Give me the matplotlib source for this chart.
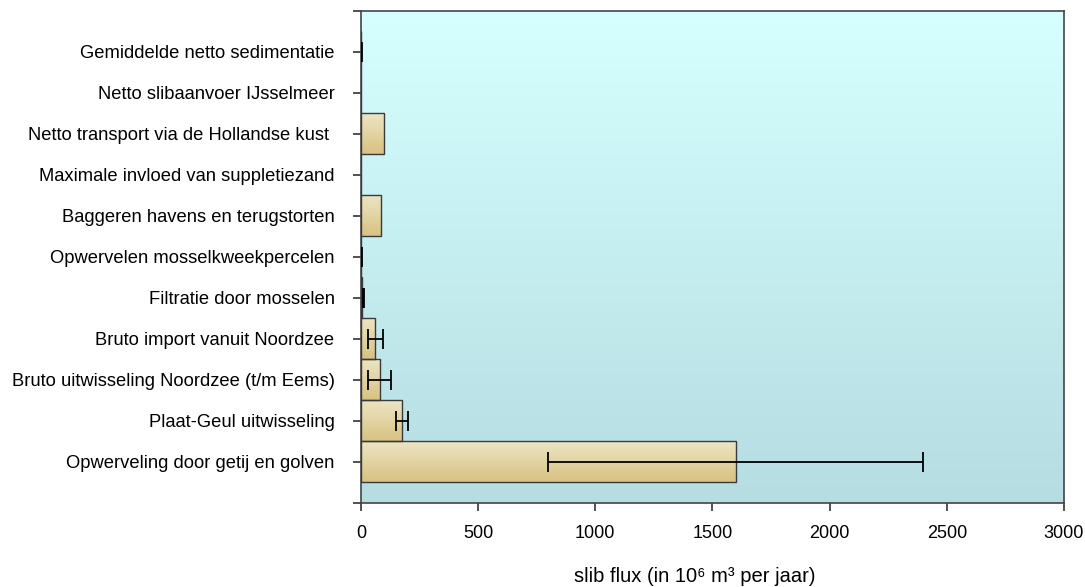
import numpy as np
import matplotlib
matplotlib.use('Agg')
import matplotlib.pyplot as plt
from matplotlib.colors import LinearSegmentedColormap

plt.rcParams['font.family'] = ['Liberation Sans', 'DejaVu Sans']

# categorieen van onder naar boven
categorieen = [
    'Opwerveling door getij en golven',
    'Plaat-Geul uitwisseling',
    'Bruto uitwisseling Noordzee (t/m Eems)',
    'Bruto import vanuit Noordzee',
    'Filtratie door mosselen',
    'Opwervelen mosselkweekpercelen',
    'Baggeren havens en terugstorten',
    'Maximale invloed van suppletiezand',
    'Netto transport via de Hollandse kust ',
    'Netto slibaanvoer IJsselmeer',
    'Gemiddelde netto sedimentatie',
]
waarden = [1600, 175, 80, 60, 5, 0, 85, 0, 100, 0, 0]
fout_laag = [800, 150, 30, 30, 7, 0, None, None, None, None, 0]
fout_hoog = [2400, 200, 130, 92, 13, 3, None, None, None, None, 3]
xticks = [0, 500, 1000, 1500, 2000, 2500, 3000]

fig = plt.figure(figsize=(10.85, 5.87), dpi=100)
ax = fig.add_axes([0.3327, 0.1431, 0.6479, 0.8390])

y = np.arange(len(categorieen))
ax.set_xlim(0, 3000)
ax.set_ylim(-1, 11)

# achtergrond met verloop
bg = LinearSegmentedColormap.from_list('bg', ['#b5dde2', '#d6ffff'])
ax.imshow(np.linspace(0, 1, 256).reshape(-1, 1), cmap=bg, origin='lower',
          extent=[0, 3000, -1, 11], aspect='auto', zorder=0)

# balken met verloop
balk_cmap = LinearSegmentedColormap.from_list('balk', ['#d9c282', '#ece6c6'])
grad = np.linspace(0, 1, 64).reshape(-1, 1)
bars = ax.barh(y, waarden, height=1.0, color='none', edgecolor='#3a3a3a',
               linewidth=1.0, zorder=3)
for b in bars:
    x0, y0 = b.get_x(), b.get_y()
    w, h = b.get_width(), b.get_height()
    if w <= 0:
        continue
    im = ax.imshow(grad, cmap=balk_cmap, origin='lower',
                   extent=[x0, x0 + w, y0, y0 + h], aspect='auto', zorder=2)
    im.set_clip_path(b)

# foutbalken (als bereik laag-hoog)
for i in range(len(categorieen)):
    if fout_laag[i] is None:
        continue
    midden = (fout_laag[i] + fout_hoog[i]) / 2
    half = (fout_hoog[i] - fout_laag[i]) / 2
    ax.errorbar(midden, y[i], xerr=half,
                fmt='none', ecolor='black', elinewidth=1.3, capsize=7,
                capthick=1.3, zorder=4)

ax.set_yticks(np.arange(-1, 12))
ax.set_yticklabels([''] + categorieen + [''], fontsize=13.2)
ax.set_xticks(xticks)
ax.set_xticklabels([str(t) for t in xticks], fontsize=13)
ax.tick_params(axis='y', length=6, width=1.2, color='#333333', pad=13)
ax.tick_params(axis='x', length=6, width=1.2, color='#333333', pad=9.5)
for s in ax.spines.values():
    s.set_color('#444444')
    s.set_linewidth(1.2)

ax.set_xlabel('slib flux (in 10⁶ m³ per jaar)', fontsize=14.5, va='center')
ax.xaxis.set_label_coords(0.475, -0.150)

fig.savefig('out.png', dpi=100)
